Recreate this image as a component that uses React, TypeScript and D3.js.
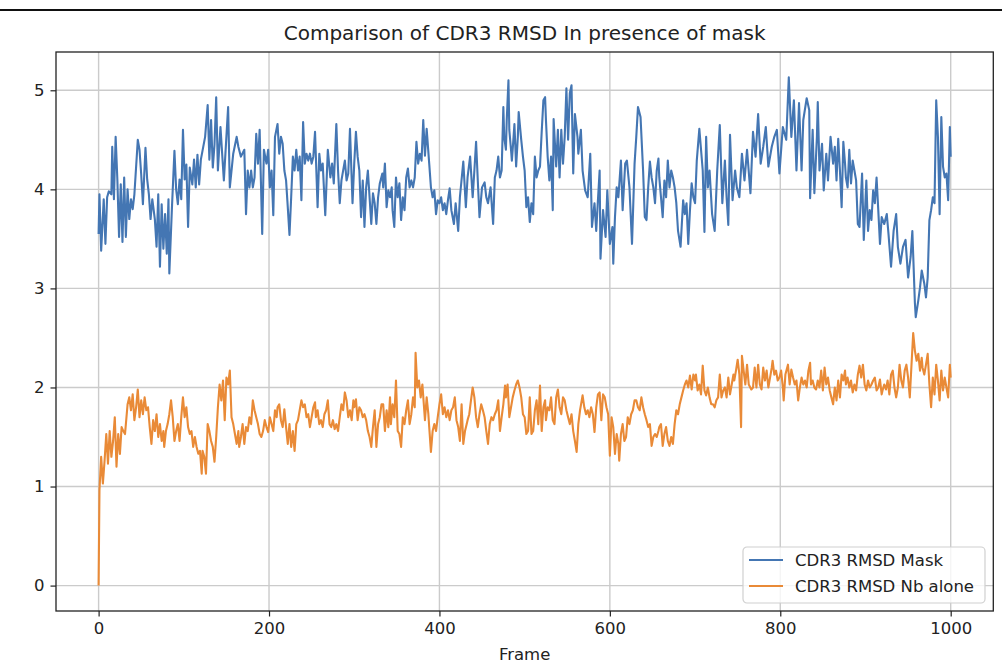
import React, { useEffect, useRef } from 'react'
import * as d3 from 'd3'

// [frame, RMSD] pairs
const maskRmsd: [number, number][] = [
  [0, 3.55], [1, 3.95], [3, 3.38], [6, 3.90], [8, 3.45], [10, 3.92], [12, 3.98], [15, 3.95], [16, 4.43], [18, 3.90],
  [20, 4.53], [22, 4.10], [24, 3.52], [26, 4.05], [28, 3.47], [30, 4.12], [32, 3.52], [34, 4.00], [36, 3.70], [38, 3.90],
  [40, 3.80], [42, 3.95], [46, 4.50], [48, 4.40], [50, 4.15], [52, 3.85], [55, 4.42], [57, 4.10], [59, 3.95], [61, 3.70],
  [63, 3.90], [66, 3.70], [68, 3.42], [70, 3.95], [72, 3.22], [74, 3.85], [76, 3.40], [78, 3.75], [80, 3.35], [82, 3.90],
  [83, 3.15], [86, 3.80], [89, 4.39], [91, 4.00], [93, 3.85], [95, 4.10], [97, 3.90], [99, 4.60], [101, 4.10], [103, 4.25],
  [105, 3.62], [107, 4.22], [110, 4.05], [112, 4.30], [114, 4.02], [116, 4.35], [118, 4.05], [120, 4.30], [125, 4.53], [128, 4.85],
  [130, 4.30], [132, 4.70], [134, 4.22], [136, 4.45], [138, 4.93], [140, 4.19], [143, 4.63], [147, 4.09], [152, 4.83], [154, 4.02],
  [158, 4.36], [162, 4.53],
  [164, 4.43], [167, 4.33], [171, 4.40], [173, 3.75], [175, 4.19], [177, 4.02], [179, 4.19], [181, 4.02], [183, 4.12], [185, 4.56],
  [187, 4.26], [189, 4.60], [192, 3.55], [194, 4.40], [197, 4.26], [199, 4.40], [201, 4.02], [203, 4.19], [205, 3.74], [207, 4.53],
  [210, 4.66], [212, 4.36], [214, 4.53], [216, 4.46], [218, 4.19], [220, 4.09], [222, 3.82], [224, 3.54], [226, 3.92], [228, 4.33],
  [230, 4.19], [232, 4.40], [234, 4.19], [236, 4.33], [238, 3.89], [240, 4.68], [242, 4.26], [244, 4.36], [246, 4.29], [248, 4.36],
  [250, 4.26], [252, 4.33], [254, 4.58], [257, 3.82], [259, 4.36], [261, 4.19], [263, 4.26], [266, 3.74], [269, 4.40], [272, 4.12],
  [274, 4.26], [276, 4.06], [279, 4.66], [281, 4.19], [283, 3.86], [285, 4.09], [289, 4.29], [291, 4.09], [293, 4.16], [295, 4.61],
  [298, 3.86], [300, 4.26], [302, 4.58], [304, 4.33], [306, 4.19], [308, 3.72], [310, 4.09], [312, 3.62], [314, 4.02], [316, 4.19],
  [318, 3.92], [320, 3.65], [322, 3.96], [324, 3.86], [326, 3.65], [328, 3.92], [330, 4.06], [333, 4.16],
  [334, 4.02], [336, 4.26], [338, 3.82], [340, 3.99], [342, 3.92], [344, 4.02], [345, 3.79], [347, 3.62], [349, 4.12], [351, 3.92],
  [353, 4.06], [355, 3.69], [357, 3.92], [359, 3.79], [361, 4.12], [363, 4.21], [365, 4.02], [367, 4.09], [369, 4.02], [371, 4.12],
  [373, 4.48], [375, 4.26], [377, 4.36], [379, 4.29], [381, 4.70], [383, 4.34], [385, 4.61], [388, 4.26], [390, 4.02], [392, 3.92],
  [394, 3.99], [396, 3.75], [398, 3.89], [400, 3.86], [402, 3.92], [404, 3.79], [406, 3.86], [408, 3.75], [410, 3.89], [412, 4.01],
  [414, 3.79], [417, 3.65], [419, 3.86], [422, 3.58], [424, 3.92], [428, 4.28], [431, 3.82], [433, 4.12], [436, 4.33], [439, 3.92],
  [441, 4.19], [443, 4.48], [445, 4.09], [447, 3.72], [450, 4.02], [453, 4.07], [455, 3.92], [457, 3.86], [460, 4.02], [463, 3.65],
  [465, 4.12], [467, 4.19], [469, 4.33], [471, 4.12], [473, 4.19], [475, 4.83], [476, 4.53], [478, 4.40], [479, 4.70], [481, 5.10],
  [482, 4.60], [484, 4.40], [485, 4.29], [487, 4.53], [488, 4.66], [490, 4.23], [492, 4.53], [493, 4.78], [496, 4.50], [498, 4.33],
  [500, 4.19], [502, 3.82],
  [504, 3.92], [506, 3.67], [508, 3.86], [510, 3.75], [512, 4.33], [514, 4.12], [516, 4.19], [518, 4.23], [520, 4.58], [522, 4.90],
  [524, 4.93], [525, 4.70], [527, 4.33], [529, 4.09], [531, 4.33], [533, 3.79], [534, 4.71], [537, 4.23], [539, 4.60], [541, 4.12],
  [543, 4.60], [545, 4.26], [547, 4.53], [549, 5.02], [551, 4.50], [553, 4.97], [555, 5.05], [557, 4.16], [559, 4.76], [562, 4.53],
  [563, 4.36], [566, 4.60], [568, 4.19], [571, 3.99], [574, 3.92], [577, 4.36], [579, 3.62], [582, 3.86], [584, 3.58], [586, 3.89],
  [588, 4.19], [589, 3.30], [592, 3.79], [595, 3.52], [597, 3.99], [600, 3.45], [603, 3.62], [604, 3.25], [606, 3.72], [608, 4.02],
  [610, 3.92], [613, 4.29], [615, 3.79], [618, 4.26], [620, 4.29], [623, 4.02], [626, 3.45], [629, 4.26], [631, 4.53], [633, 4.83],
  [636, 4.73], [639, 4.19], [641, 3.72], [643, 3.69], [645, 4.02], [647, 4.28], [649, 4.12], [651, 4.02], [653, 3.86], [655, 4.19],
  [657, 4.31], [658, 4.12], [660, 3.92], [662, 3.72], [664, 4.09], [666, 3.92], [668, 4.29], [670, 4.02], [672, 4.19],
  [674, 4.12], [676, 4.02], [678, 3.86], [680, 3.58], [683, 3.42], [686, 3.89], [688, 3.75], [690, 3.86], [692, 3.45], [694, 3.79],
  [696, 4.06], [698, 3.92], [700, 3.86], [702, 4.29], [705, 4.61], [709, 4.19], [711, 3.57], [713, 4.53], [715, 4.02], [717, 4.19],
  [720, 3.75], [723, 3.58], [726, 4.19], [729, 4.65], [732, 3.86], [735, 4.29], [737, 3.92], [739, 3.64], [741, 4.55], [744, 3.89],
  [747, 4.19], [749, 4.02], [752, 3.92], [755, 4.36], [758, 4.09], [761, 4.40], [765, 3.96], [768, 4.58], [771, 4.33], [774, 4.76],
  [777, 4.26], [780, 4.43], [783, 4.63], [786, 4.23], [790, 4.43], [793, 4.53], [796, 4.60], [799, 4.16], [803, 4.63], [807, 4.50],
  [810, 5.13], [813, 4.53], [816, 4.90], [819, 4.19], [822, 4.87], [825, 4.19], [827, 4.70], [831, 4.92], [834, 4.80], [835, 3.91],
  [838, 4.60], [840, 3.96], [843, 4.53],
  [844, 4.88], [846, 4.19], [849, 4.46], [851, 3.99], [854, 4.36], [856, 4.09], [859, 4.53], [862, 4.26], [864, 4.43], [866, 4.09],
  [868, 4.51], [870, 4.19], [872, 3.82], [874, 4.48], [876, 4.26], [877, 4.12], [879, 4.02], [881, 4.40], [883, 4.06], [885, 4.29],
  [887, 4.19], [889, 4.09], [891, 3.65], [893, 3.62], [896, 4.16], [898, 3.49], [901, 4.09], [903, 3.58], [905, 3.79], [907, 3.69],
  [909, 3.99], [911, 3.86], [913, 4.12], [915, 3.79], [917, 3.45], [919, 3.72], [922, 3.65], [925, 3.75], [927, 3.55], [930, 3.22],
  [933, 3.58], [936, 3.75], [938, 3.42], [941, 3.25], [944, 3.42], [947, 3.49], [950, 3.11], [953, 3.32], [955, 3.58], [958, 2.85],
  [959, 2.71], [962, 2.88], [964, 3.01], [966, 3.18], [969, 3.05], [971, 2.91], [973, 3.11], [975, 3.69], [977, 3.79], [979, 3.92],
  [981, 3.86], [983, 4.90], [985, 4.53], [987, 3.75], [989, 4.73], [991, 4.23], [993, 4.12], [995, 4.16], [997, 3.89], [999, 4.63],
  [1000, 4.33],
]

const nbAloneRmsd: [number, number][] = [
  [0, 0.00], [1, 0.96], [2, 1.13], [3, 1.30], [5, 1.03], [7, 1.26], [9, 1.53], [11, 1.23], [13, 1.56], [15, 1.30],
  [17, 1.46], [19, 1.70], [21, 1.20], [23, 1.53], [25, 1.33], [27, 1.60], [29, 1.56], [31, 1.53], [32, 1.63], [34, 1.83],
  [36, 1.90], [38, 1.77], [40, 1.93], [42, 1.67], [44, 1.80], [46, 1.98], [48, 1.70], [50, 1.87], [52, 1.73], [54, 1.90],
  [56, 1.77], [58, 1.80], [60, 1.60], [62, 1.43], [64, 1.67], [66, 1.56], [68, 1.73], [70, 1.50], [72, 1.63], [74, 1.46],
  [76, 1.56], [77, 1.40], [79, 1.56], [81, 1.63], [83, 1.73], [85, 1.87], [87, 1.70], [89, 1.46], [91, 1.56], [93, 1.63],
  [95, 1.46], [97, 1.70], [99, 1.90], [101, 1.70], [103, 1.80], [105, 1.60], [107, 1.53], [109, 1.56], [111, 1.40], [113, 1.50],
  [115, 1.40], [117, 1.33], [119, 1.36], [121, 1.13], [122, 1.36], [124, 1.30], [126, 1.13], [128, 1.63], [130, 1.56], [132, 1.46],
  [134, 1.40], [136, 1.25], [138, 1.50], [140, 1.80], [142, 2.03], [144, 1.87], [146, 2.07], [148, 1.67], [150, 2.10], [152, 2.03],
  [154, 2.17], [156, 1.70], [158, 1.63], [160, 1.53], [162, 1.43],
  [164, 1.56], [165, 1.40], [167, 1.50], [169, 1.63], [171, 1.43], [173, 1.60], [175, 1.56], [177, 1.70], [179, 1.63], [181, 1.87],
  [183, 1.77], [185, 1.70], [187, 1.63], [189, 1.53], [191, 1.50], [193, 1.56], [195, 1.67], [197, 1.60], [199, 1.55], [201, 1.70],
  [203, 1.63], [205, 1.56], [207, 1.77], [209, 1.70], [210, 1.80], [212, 1.83], [214, 1.67], [216, 1.60], [218, 1.78], [220, 1.60],
  [222, 1.43], [224, 1.63], [226, 1.40], [228, 1.56], [230, 1.36], [232, 1.63], [234, 1.67], [236, 1.77], [238, 1.87], [240, 1.80],
  [242, 1.83], [244, 1.70], [246, 1.73], [248, 1.60], [250, 1.70], [252, 1.80], [254, 1.85], [255, 1.70], [257, 1.77], [259, 1.63],
  [261, 1.67], [263, 1.60], [265, 1.73], [267, 1.77], [269, 1.87], [271, 1.63], [273, 1.60], [275, 1.67], [277, 1.58], [279, 1.63],
  [281, 1.56], [283, 1.70], [285, 1.83], [287, 1.77], [289, 1.95], [291, 1.87], [293, 1.70], [295, 1.77], [297, 1.67], [299, 1.87],
  [300, 1.80], [302, 1.88], [304, 1.67], [306, 1.80], [308, 1.77], [310, 1.70], [312, 1.73], [314, 1.67], [316, 1.56], [318, 1.50],
  [320, 1.40], [322, 1.60], [324, 1.77], [326, 1.40], [328, 1.63], [330, 1.70], [332, 1.83],
  [334, 1.83], [336, 1.56], [338, 1.77], [340, 1.60], [342, 1.90], [343, 1.63], [345, 1.83], [347, 1.70], [349, 2.07], [351, 1.56],
  [353, 1.53], [355, 1.40], [357, 1.70], [359, 1.63], [361, 1.77], [363, 1.87], [365, 1.63], [367, 1.73], [369, 1.90], [371, 1.80],
  [372, 2.35], [374, 2.00], [376, 2.07], [378, 1.90], [380, 2.03], [383, 1.67], [385, 1.90], [387, 1.73], [388, 1.60], [390, 1.35],
  [392, 1.56], [394, 1.63], [396, 1.56], [398, 1.70], [400, 1.83], [402, 1.93], [404, 1.73], [406, 1.80], [408, 1.70], [410, 1.77],
  [412, 1.67], [414, 1.77], [416, 1.80], [418, 1.90], [420, 1.67], [422, 1.60], [424, 1.46], [426, 1.83], [428, 1.43], [430, 1.56],
  [432, 1.63], [433, 1.67], [435, 1.73], [437, 1.87], [439, 2.00], [441, 1.90], [443, 1.70], [445, 1.60], [447, 1.73], [449, 1.83],
  [451, 1.77], [453, 1.70], [455, 1.56], [457, 1.43], [459, 1.63], [461, 1.70], [463, 1.67], [465, 1.73], [467, 1.77], [469, 1.87],
  [471, 1.56], [473, 1.70], [475, 1.83], [477, 2.02], [478, 1.90], [480, 2.03], [482, 1.70], [484, 1.80], [486, 1.90], [488, 1.97],
  [490, 2.03], [492, 2.07], [494, 2.00], [496, 1.90], [498, 1.73], [500, 1.70], [502, 1.53],
  [504, 1.56], [506, 1.90], [508, 1.53], [510, 1.56], [512, 1.77], [514, 1.87], [516, 1.63], [518, 2.02], [520, 1.56], [522, 1.80],
  [524, 1.87], [525, 1.67], [527, 1.80], [529, 1.77], [531, 1.90], [533, 1.67], [535, 1.63], [537, 1.90], [539, 1.98], [541, 1.80],
  [543, 1.73], [545, 1.90], [547, 1.87], [549, 1.77], [551, 1.70], [553, 1.63], [555, 1.73], [557, 1.56], [559, 1.46], [561, 1.35],
  [563, 1.63], [565, 1.77], [567, 1.87], [568, 1.92], [570, 1.80], [572, 1.73], [574, 1.77], [576, 1.70], [578, 1.80], [580, 1.73],
  [582, 1.55], [584, 1.80], [586, 1.93], [588, 1.95], [590, 1.67], [592, 1.93], [594, 1.90], [596, 1.80], [598, 1.73], [600, 1.31],
  [602, 1.70], [604, 1.60], [606, 1.33], [608, 1.53], [610, 1.43], [611, 1.26], [613, 1.53], [615, 1.63], [617, 1.46], [619, 1.50],
  [621, 1.70], [623, 1.63], [625, 1.73], [627, 1.77], [629, 1.87], [631, 1.87], [633, 1.80], [635, 1.77], [637, 1.90], [639, 1.80],
  [641, 1.73], [643, 1.67], [645, 1.60], [647, 1.63], [649, 1.41], [651, 1.50], [653, 1.53], [655, 1.50], [657, 1.56], [658, 1.60],
  [660, 1.63], [662, 1.41], [664, 1.53], [666, 1.60], [668, 1.46], [670, 1.41], [672, 1.50],
  [674, 1.43], [676, 1.63], [678, 1.77], [680, 1.73], [682, 1.83], [684, 1.90], [686, 1.97], [688, 2.03], [690, 2.07], [692, 2.00],
  [694, 2.12], [696, 1.98], [698, 2.13], [700, 2.07], [701, 2.13], [703, 1.97], [705, 2.03], [707, 1.93], [709, 2.22], [711, 1.97],
  [713, 1.92], [715, 2.00], [717, 1.90], [719, 1.83], [721, 1.83], [723, 1.80], [725, 1.87], [727, 1.90], [729, 2.13], [731, 1.90],
  [733, 1.97], [735, 2.00], [737, 1.90], [739, 2.10], [741, 1.93], [743, 2.03], [745, 2.13], [746, 2.07], [748, 2.17], [750, 2.28],
  [752, 2.13], [754, 1.60], [755, 2.32], [757, 2.17], [759, 2.03], [761, 2.23], [763, 2.03], [766, 1.98], [768, 2.00], [770, 2.20],
  [772, 2.00], [774, 2.23], [776, 2.03], [778, 1.98], [780, 2.20], [782, 2.07], [784, 2.17], [786, 2.00], [788, 2.10], [790, 2.20],
  [791, 2.27], [793, 2.13], [795, 2.17], [797, 2.07], [799, 2.10], [801, 2.17], [803, 2.00], [804, 1.87], [806, 2.13], [809, 2.23],
  [811, 2.03], [813, 2.18], [815, 2.10], [817, 2.03], [819, 2.07], [821, 1.87], [823, 2.00], [825, 2.10], [827, 2.03], [829, 2.07],
  [831, 2.00], [833, 2.17], [835, 2.25], [836, 2.03], [838, 2.07], [840, 2.00], [842, 1.98],
  [844, 2.07], [846, 2.00], [848, 2.17], [850, 1.97], [852, 2.20], [854, 2.03], [856, 2.10], [858, 1.97], [860, 1.90], [862, 1.83],
  [864, 2.00], [866, 1.87], [868, 2.07], [870, 1.90], [872, 2.13], [874, 2.07], [876, 2.17], [877, 2.03], [879, 2.10], [881, 2.00],
  [883, 2.07], [885, 1.95], [887, 2.03], [889, 1.97], [891, 2.13], [893, 2.22], [895, 2.10], [897, 2.23], [899, 2.03], [901, 1.97],
  [903, 2.07], [905, 2.00], [907, 2.03], [909, 2.07], [911, 2.10], [913, 1.97], [915, 2.00], [917, 2.08], [919, 1.93], [920, 1.97],
  [922, 2.03], [924, 1.98], [926, 2.07], [928, 1.93], [930, 2.13], [932, 2.17], [934, 2.00], [936, 1.90], [938, 2.00], [940, 2.23],
  [942, 2.07], [944, 2.00], [946, 2.17], [948, 2.23], [950, 2.10], [952, 1.90], [954, 2.23], [956, 2.55], [958, 2.37], [960, 2.27],
  [962, 2.34], [964, 2.17], [966, 2.30], [967, 2.20], [969, 2.13], [971, 2.23], [973, 2.34], [975, 2.03], [977, 1.80], [979, 2.10],
  [981, 1.93], [983, 2.23], [985, 2.07], [987, 1.87], [989, 2.17], [991, 1.97], [993, 2.10], [995, 2.00], [997, 1.90], [999, 2.23],
  [1000, 2.10],
]

const seriesNames = ['CDR3 RMSD Mask', 'CDR3 RMSD Nb alone']
const xTicks = [0, 200, 400, 600, 800, 1000]
const yTicks = [0, 1, 2, 3, 4, 5]

const W = 1002
const H = 663
const colors = ['#4476b3', '#e98a37']
const font = 'DejaVu Sans, sans-serif'

const App = () => {
  const ref = useRef<SVGSVGElement>(null)

  useEffect(() => {
    const svg = d3.select(ref.current)
    svg.selectAll('*').remove()

    const left = 56
    const right = 993.3
    const top = 52
    const bottom = 611

    const x = d3.scaleLinear().domain([-50, 1050]).range([left, right])
    const ymax = d3.max([...maskRmsd, ...nbAloneRmsd], (d) => d[1]) as number
    const pad = ymax * 0.05
    const y = d3.scaleLinear().domain([-pad, ymax + pad]).range([bottom, top])

    // thin rule across the top of the picture
    svg.append('line')
      .attr('x1', 0).attr('x2', W).attr('y1', 10).attr('y2', 10)
      .attr('stroke', '#111').attr('stroke-width', 2)

    const grid = svg.append('g')
    grid.selectAll('.gx').data(xTicks).join('line')
      .attr('x1', (d) => x(d)).attr('x2', (d) => x(d))
      .attr('y1', top).attr('y2', bottom)
      .attr('stroke', '#cbcbcb').attr('stroke-width', 1.4)
    grid.selectAll('.gy').data(yTicks).join('line')
      .attr('x1', left).attr('x2', right)
      .attr('y1', (d) => y(d)).attr('y2', (d) => y(d))
      .attr('stroke', '#cbcbcb').attr('stroke-width', 1.4)

    const line = d3.line<[number, number]>()
      .x((d) => x(d[0]))
      .y((d) => y(d[1]))

    ;[maskRmsd, nbAloneRmsd].forEach((vals, i) => {
      svg.append('path')
        .datum(vals)
        .attr('d', line)
        .attr('fill', 'none')
        .attr('stroke', colors[i])
        .attr('stroke-width', 2.1)
        .attr('stroke-linejoin', 'round')
    })

    svg.append('rect')
      .attr('x', left).attr('y', top)
      .attr('width', right - left).attr('height', bottom - top)
      .attr('fill', 'none').attr('stroke', '#222').attr('stroke-width', 1.3)

    const fmt = d3.format('d')
    const xAxis = d3.axisBottom(x).tickValues(xTicks).tickFormat(fmt).tickSize(5.5).tickPadding(6)
    const gx = svg.append('g').attr('transform', `translate(0,${bottom})`).call(xAxis)
    const yAxis = d3.axisLeft(y).tickValues(yTicks).tickFormat(fmt).tickSize(5.5).tickPadding(6)
    const gy = svg.append('g').attr('transform', `translate(${left},0)`).call(yAxis)
    ;[gx, gy].forEach((g) => {
      g.select('.domain').remove()
      g.selectAll('.tick line').attr('stroke', '#222').attr('stroke-width', 1.2)
      g.selectAll('.tick text')
        .attr('fill', '#222')
        .style('font-family', font)
        .style('font-size', '16.5px')
    })

    svg.append('text')
      .attr('x', (left + right) / 2).attr('y', 40)
      .attr('text-anchor', 'middle')
      .style('font-family', font).style('font-size', '20px')
      .attr('fill', '#222')
      .text('Comparison of CDR3 RMSD In presence of mask')

    svg.append('text')
      .attr('x', (left + right) / 2).attr('y', 660)
      .attr('text-anchor', 'middle')
      .style('font-family', font).style('font-size', '16.5px')
      .attr('fill', '#222')
      .text('Frame')

    const lg = svg.append('g').attr('transform', 'translate(743,547)')
    lg.append('rect')
      .attr('width', 242).attr('height', 56).attr('rx', 4)
      .attr('fill', 'white').attr('fill-opacity', 0.8)
      .attr('stroke', '#d0d0d0').attr('stroke-width', 1.2)
    seriesNames.forEach((name, i) => {
      const cy = 13 + i * 26
      lg.append('line')
        .attr('x1', 6).attr('x2', 40).attr('y1', cy).attr('y2', cy)
        .attr('stroke', colors[i]).attr('stroke-width', 2.2)
      lg.append('text')
        .attr('x', 52).attr('y', cy).attr('dy', '0.35em')
        .style('font-family', font).style('font-size', '16.5px')
        .attr('fill', '#222')
        .text(name)
    })
  }, [])

  return (
    <div style={{ position: 'absolute', left: 0, top: 0, background: 'white' }}>
      <svg ref={ref} width={W} height={H} />
    </div>
  )
}

export default App
